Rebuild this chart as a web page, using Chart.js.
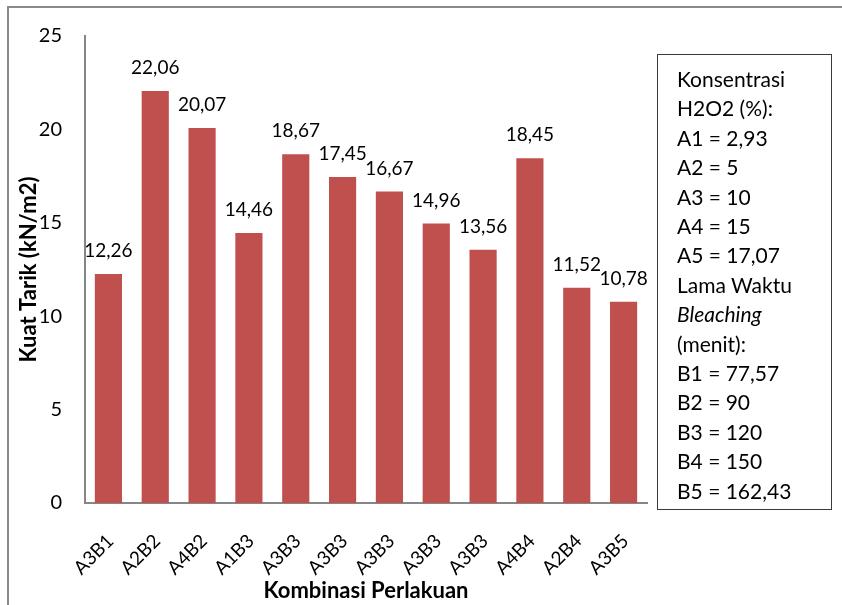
<!DOCTYPE html>
<html>
<head>
<meta charset="utf-8">
<script src="https://cdn.jsdelivr.net/npm/chart.js@4/dist/chart.umd.min.js"></script>
<style>
  html, body { margin: 0; padding: 0; background: #fff; }
  #wrap { position: relative; width: 842px; height: 605px; overflow: hidden; }
  #frame { position: absolute; left: 7px; top: 6px; width: 900px; height: 700px;
           border-left: 2px solid #8a8a8a; border-top: 2px solid #8a8a8a; box-sizing: border-box; }
  canvas { position: absolute; left: 0; top: 0; }
  #keybox { position: absolute; left: 657px; top: 54px; width: 175px; height: 456px;
            border: 1.5px solid #3a3a3a; box-sizing: border-box; padding: 9px 0 0 19px;
            font-family: Lato, "Noto Sans", sans-serif; font-size: 21px; line-height: 29.4px; color: #000; }
  #keybox div { white-space: nowrap; }
  #keybox .it { font-style: italic; }
</style>
</head>
<body>
<div id="wrap">
  <div id="frame"></div>
  <canvas id="c" width="842" height="605"></canvas>
  <div id="keybox"></div>
</div>
<script>
// Treatment combinations and measured tensile strength
const categories = ["A3B1", "A2B2", "A4B2", "A1B3", "A3B3", "A3B3", "A3B3", "A3B3", "A3B3", "A4B4", "A2B4", "A3B5"];
const kuatTarik = [12.26, 22.06, 20.07, 14.46, 18.67, 17.45, 16.67, 14.96, 13.56, 18.45, 11.52, 10.78];
const yTicks = [0, 5, 10, 15, 20, 25];

// Key text: [text, italic]
const keyLines = [
  ["Konsentrasi", false],
  ["H2O2 (%):", false],
  ["A1 = 2,93", false],
  ["A2 = 5", false],
  ["A3 = 10", false],
  ["A4 = 15", false],
  ["A5 = 17,07", false],
  ["Lama Waktu", false],
  ["Bleaching", true],
  ["(menit):", false],
  ["B1 = 77,57", false],
  ["B2 = 90", false],
  ["B3 = 120", false],
  ["B4 = 150", false],
  ["B5 = 162,43", false]
];

const box = document.getElementById("keybox");
keyLines.forEach(([t, it]) => {
  const d = document.createElement("div");
  d.textContent = t;
  if (it) d.className = "it";
  box.appendChild(d);
});

const FONT = "Lato, 'Noto Sans', sans-serif";
const fmt = v => v.toFixed(2).replace(".", ",");

// Value labels above each bar
const valueLabels = {
  id: "valueLabels",
  afterDatasetsDraw(chart) {
    const ctx = chart.ctx;
    const meta = chart.getDatasetMeta(0);
    ctx.save();
    ctx.font = "19px " + FONT;
    ctx.fillStyle = "#000";
    ctx.textAlign = "center";
    ctx.textBaseline = "alphabetic";
    meta.data.forEach((bar, i) => {
      ctx.fillText(fmt(kuatTarik[i]), bar.x, bar.y - 17);
    });
    ctx.restore();
  }
};

// Category labels under the axis, slanted 45 degrees
const slantedLabels = {
  id: "slantedLabels",
  afterDraw(chart) {
    const ctx = chart.ctx;
    const xs = chart.scales.x;
    const y0 = xs.top + 35;
    ctx.save();
    ctx.font = "19px " + FONT;
    ctx.fillStyle = "#000";
    ctx.textAlign = "right";
    ctx.textBaseline = "middle";
    categories.forEach((lab, i) => {
      ctx.save();
      ctx.translate(xs.getPixelForValue(i) + 2, y0);
      ctx.rotate(-Math.PI / 4);
      ctx.fillText(lab, 0, 0);
      ctx.restore();
    });
    ctx.restore();
  }
};

new Chart(document.getElementById("c"), {
  type: "bar",
  data: {
    labels: categories,
    datasets: [{
      data: kuatTarik,
      backgroundColor: "#C0504D",
      borderWidth: 0,
      barPercentage: 0.58,
      categoryPercentage: 1.0
    }]
  },
  options: {
    responsive: false,
    animation: false,
    devicePixelRatio: 1,
    layout: { padding: { left: 0, top: 36, right: 195, bottom: 0 } },
    plugins: { legend: { display: false }, tooltip: { enabled: false } },
    scales: {
      x: {
        grid: { display: false, drawTicks: false },
        border: { display: true, color: "#868686", width: 2 },
        ticks: { display: false },
        title: {
          display: true,
          text: "Kombinasi Perlakuan",
          color: "#000",
          font: { family: FONT, size: 22, weight: "bold" },
          padding: { top: 0, bottom: 1 }
        },
        afterFit(s) { s.height = 102; }
      },
      y: {
        min: 0, max: 25,
        grid: { display: false, drawTicks: false },
        border: { display: true, color: "#868686", width: 2 },
        afterBuildTicks(s) { s.ticks = yTicks.map(v => ({ value: v })); },
        ticks: {
          color: "#000",
          font: { family: FONT, size: 20 },
          padding: 23
        },
        title: {
          display: true,
          text: "Kuat Tarik (kN/m2)",
          color: "#000",
          font: { family: FONT, size: 22, weight: "bold" },
          padding: { top: 16, bottom: 0 }
        },
        afterFit(s) { s.width = 85; }
      }
    }
  },
  plugins: [valueLabels, slantedLabels]
});
</script>
</body>
</html>
